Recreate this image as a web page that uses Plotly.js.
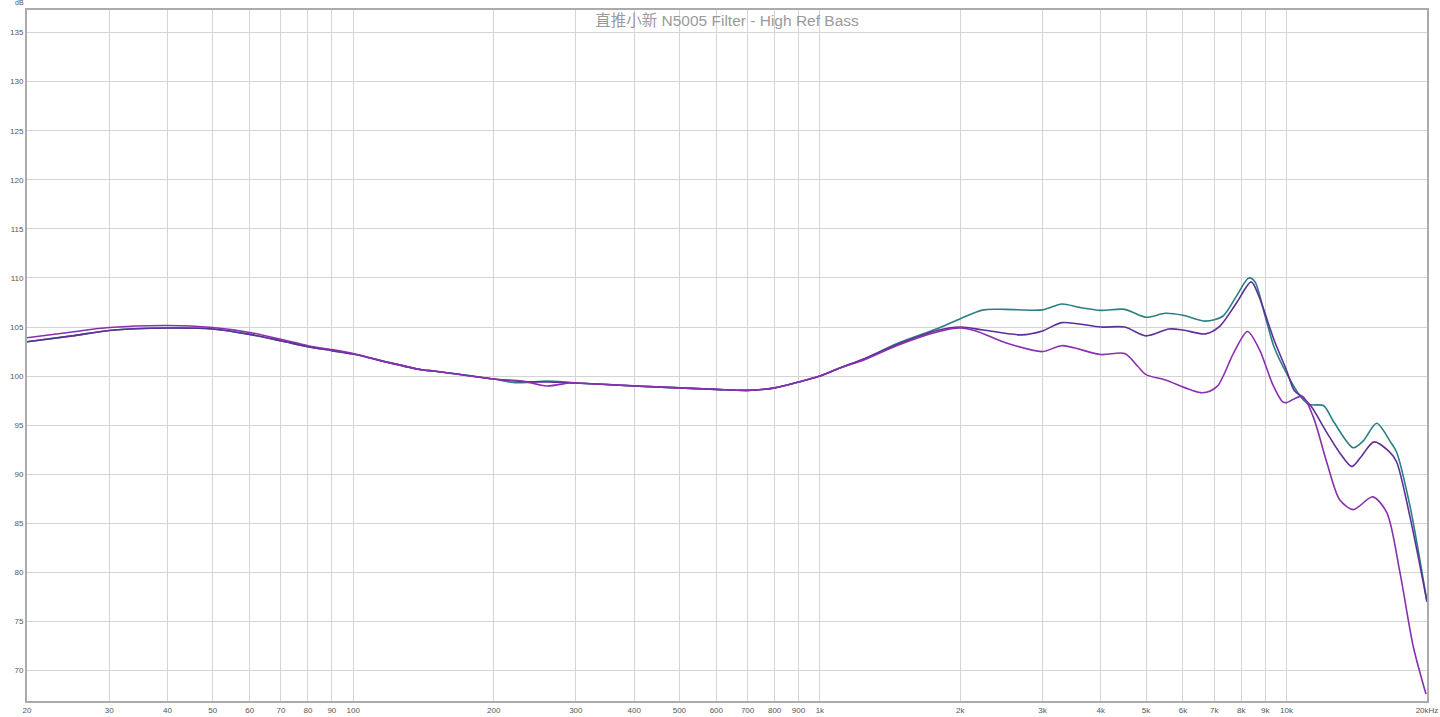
<!DOCTYPE html>
<html>
<head>
<meta charset="utf-8">
<script src="https://cdn.plot.ly/plotly-3.0.1.min.js"></script>
<style>
html,body{margin:0;padding:0;background:#fff;}
#chart{width:1440px;height:717px;}
</style>
</head>
<body>
<div id="chart"></div>
<script>
// ---------- data ----------
const chartTitle = "直推小新 N5005 Filter - High Ref Bass";

const tealFreq = [20,25,30,40,50,60,70,80,90,100,120,140,150,200,220,235,260,300,400,500,600,700,800,900,1000,1100,1250,1460,1800,2000,2240,2500,3000,3300,3600,4000,4500,5000,5500,6000,6700,7300,7800,8300,8550,9000,9400,10000,10700,11200,12000,12600,13900,14600,15600,16700,17200,18400,20000];
const tealDb   = [103.5,104.1,104.65,104.9,104.8,104.25,103.6,103.0,102.6,102.25,101.35,100.65,100.5,99.7,99.35,99.35,99.5,99.3,99.0,98.8,98.65,98.55,98.8,99.4,100.0,100.8,101.8,103.3,104.9,105.85,106.75,106.8,106.75,107.35,107.0,106.7,106.8,106.0,106.4,106.2,105.6,106.1,108.1,110.0,109.65,106.1,103.0,100.3,97.95,97.1,97.0,95.4,92.7,93.4,95.2,93.3,92.3,86.7,77.0];

const midFreq = [20,25,30,40,50,60,70,80,90,100,120,140,150,200,230,260,300,400,500,600,700,800,900,1000,1100,1250,1460,1800,2000,2240,2700,3000,3300,4000,4500,5000,5600,6000,6700,7200,7800,8400,8700,9400,10000,10400,10800,11300,12200,13000,13800,14400,15400,16600,17200,18400,20000];
const midDb   = [103.5,104.1,104.65,104.9,104.8,104.25,103.6,103.0,102.6,102.25,101.35,100.65,100.5,99.7,99.45,99.4,99.3,99.0,98.8,98.65,98.55,98.8,99.4,100.0,100.8,101.8,103.2,104.7,105.0,104.7,104.2,104.6,105.45,105.0,105.0,104.1,104.8,104.7,104.3,105.1,107.4,109.6,108.3,103.7,100.6,98.5,97.9,96.9,94.25,92.2,90.8,91.7,93.3,92.3,91.3,85.6,77.0];

const lowFreq = [20,25,30,40,50,60,70,80,90,100,120,140,150,200,230,260,290,300,400,500,600,700,800,900,1000,1100,1250,1460,1800,2000,2160,2500,3000,3300,4000,4500,4800,5000,5500,6600,7100,7700,8250,8750,9350,9800,10000,10800,11400,12200,13000,13900,15300,16400,17500,18700,19900];
const lowDb   = [103.9,104.5,104.95,105.15,104.95,104.45,103.75,103.1,102.7,102.3,101.35,100.65,100.5,99.7,99.5,99.0,99.3,99.3,99.0,98.8,98.65,98.55,98.8,99.4,100.0,100.8,101.7,103.1,104.55,104.9,104.6,103.4,102.5,103.1,102.2,102.3,101.0,100.15,99.6,98.3,98.95,102.35,104.55,102.7,99.1,97.4,97.3,97.95,95.9,91.2,87.4,86.4,87.7,86.1,80.0,72.4,67.6];

const xTickVals = [20,30,40,50,60,70,80,90,100,200,300,400,500,600,700,800,900,1000,2000,3000,4000,5000,6000,7000,8000,9000,10000,20000];
const xTickText = ["20","30","40","50","60","70","80","90","100","200","300","400","500","600","700","800","900","1k","2k","3k","4k","5k","6k","7k","8k","9k","10k","20kHz"];
const yTickVals = [70,75,80,85,90,95,100,105,110,115,120,125,130,135];
const decadeLines = [100,1000,10000];

// ---------- chart ----------
const fontFam = '"Liberation Sans", Arial, "Noto Sans CJK SC", sans-serif';

function curve(x, y, color){
  return {x:x, y:y, type:'scatter', mode:'lines',
    line:{color:color, width:1.6, shape:'spline', smoothing:0.8},
    hoverinfo:'skip', showlegend:false};
}

const traces = [
  curve(tealFreq, tealDb, '#2a7f83'),
  curve(midFreq, midDb, '#5e2f98'),
  curve(lowFreq, lowDb, '#8a2fae')
];

const shapes = decadeLines.map(f => ({
  type:'line', xref:'x', yref:'paper', x0:Math.log10(f), x1:Math.log10(f), y0:0, y1:1,
  line:{color:'#a6a6a6', width:1.3}, layer:'below'
}));

const layout = {
  width:1440, height:717,
  margin:{l:27, r:13, t:10, b:16},
  paper_bgcolor:'#ffffff', plot_bgcolor:'#ffffff',
  font:{family:fontFam, color:'#555', size:8},
  title:{text:chartTitle, x:0.5, xref:'paper', y:1-21/717, yref:'container', xanchor:'center', yanchor:'middle',
    font:{family:fontFam, size:15.5, color:'#9a9a9a'}},
  xaxis:{type:'log', range:[Math.log10(20), Math.log10(20000)],
    tickvals:xTickVals, ticktext:xTickText, ticks:'', tickfont:{size:8, color:'#555'},
    showgrid:true, gridcolor:'#d4d4d4', gridwidth:1, zeroline:false,
    showline:true, mirror:true, linecolor:'#ababab', linewidth:2, fixedrange:true},
  yaxis:{range:[66.9, 137.3], tickvals:yTickVals, ticks:'', tickfont:{size:8, color:'#555'},
    showgrid:true, gridcolor:'#d4d4d4', gridwidth:1, zeroline:false,
    showline:true, mirror:true, linecolor:'#ababab', linewidth:2, fixedrange:true},
  shapes:shapes,
  annotations:[{text:'dB', xref:'paper', yref:'paper', x:-0.001, y:1.003, xanchor:'right', yanchor:'bottom',
    showarrow:false, font:{size:7, color:'#555'}}]
};

Plotly.newPlot('chart', traces, layout, {staticPlot:true, displayModeBar:false});
</script>
</body>
</html>
